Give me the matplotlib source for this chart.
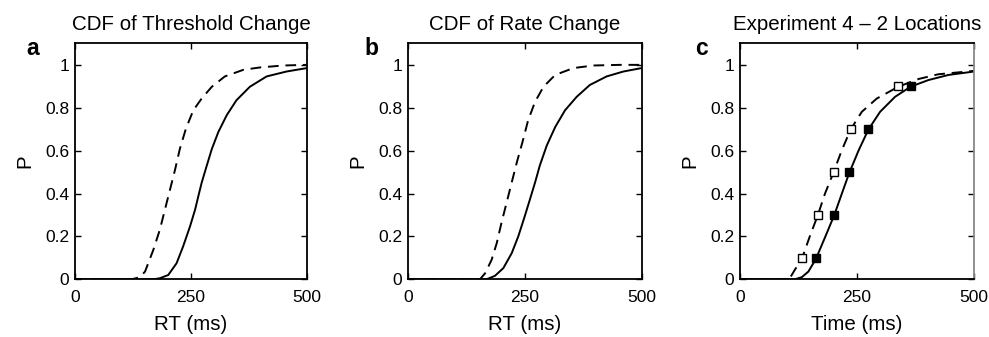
import matplotlib.pyplot as plt

plt.rcParams['font.family'] = ['Liberation Sans', 'DejaVu Sans']

# ---- panel a : CDF of threshold change ----
a_solid_t = [0, 169, 183, 201, 219, 233, 248, 259, 266, 273, 284, 295, 309, 327, 348, 377, 413, 456, 500]
a_solid_p = [0, 0, 0.005, 0.02, 0.075, 0.153, 0.247, 0.326, 0.389, 0.45, 0.53, 0.608, 0.687, 0.765, 0.835, 0.898, 0.946, 0.969, 0.985]
a_dash_t = [0, 122, 140, 151, 169, 183, 194, 205, 216, 226, 239, 255, 273, 295, 323, 363, 399, 449, 500]
a_dash_p = [0, 0, 0.01, 0.036, 0.138, 0.232, 0.326, 0.42, 0.514, 0.608, 0.702, 0.788, 0.843, 0.898, 0.946, 0.977, 0.988, 0.997, 1.0]

# ---- panel b : CDF of rate change ----
b_solid_t = [0, 168, 186, 204, 222, 236, 250, 261, 272, 282, 297, 315, 336, 361, 389, 425, 461, 500]
b_solid_p = [0, 0, 0.016, 0.052, 0.122, 0.2, 0.295, 0.373, 0.452, 0.53, 0.624, 0.71, 0.788, 0.851, 0.906, 0.946, 0.969, 0.985]
b_dash_t = [0, 154, 165, 179, 190, 200, 211, 222, 233, 245, 257, 272, 290, 315, 354, 397, 454, 500]
b_dash_p = [0, 0, 0.028, 0.091, 0.169, 0.263, 0.357, 0.452, 0.546, 0.64, 0.741, 0.828, 0.898, 0.953, 0.985, 0.997, 1.0, 1.0]

# ---- panel c : experiment 4, 2 locations ----
c_solid_t = [0, 117, 132, 146, 162, 181, 201, 217, 233, 253, 274, 299, 331, 364, 402, 445, 500]
c_solid_p = [0, 0, 0.01, 0.036, 0.095, 0.193, 0.298, 0.397, 0.495, 0.6, 0.698, 0.781, 0.851, 0.898, 0.929, 0.953, 0.969]
c_dash_t = [0, 105, 117, 132, 149, 166, 181, 199, 217, 236, 260, 292, 338, 381, 423, 500]
c_dash_p = [0, 0, 0.044, 0.095, 0.2, 0.298, 0.397, 0.495, 0.6, 0.698, 0.781, 0.843, 0.898, 0.934, 0.956, 0.972]
c_filled_t = [162, 201, 233, 273, 365]
c_open_t = [132, 167, 200, 237, 338]
c_quant = [0.1, 0.3, 0.5, 0.7, 0.9]

titles = ["CDF of Threshold Change", "CDF of Rate Change", "Experiment 4 \u2013 2 Locations"]
letters = ["a", "b", "c"]
letter_x = [-0.211, -0.184, -0.192]
xlabels = ["RT (ms)", "RT (ms)", "Time (ms)"]

fig = plt.figure(figsize=(9.89, 3.37), dpi=100)
lefts = [0.0758, 0.4125, 0.7482]
widths = [0.2346, 0.2363, 0.2369]
axes = [fig.add_axes([l, 0.1712, w, 0.700]) for l, w in zip(lefts, widths)]

curves = [
    (a_solid_t, a_solid_p, a_dash_t, a_dash_p),
    (b_solid_t, b_solid_p, b_dash_t, b_dash_p),
    (c_solid_t, c_solid_p, c_dash_t, c_dash_p),
]

for i, ax in enumerate(axes):
    st, sp, dt, dp = curves[i]
    ax.plot(dt, dp, color="black", lw=1.4, dashes=(5.5, 3.5))
    ax.plot(st, sp, color="black", lw=1.4)
    ax.set_xlim(0, 500)
    ax.set_ylim(0, 1.1)
    ax.set_xticks([0, 250, 500])
    ax.set_yticks([0, 0.2, 0.4, 0.6, 0.8, 1])
    ax.set_yticklabels(["0", "0.2", "0.4", "0.6", "0.8", "1"])
    ax.tick_params(direction="in", top=True, right=True, length=4, width=1,
                   labelsize=12.5)
    ax.tick_params(axis="x", pad=8)
    ax.tick_params(axis="y", pad=4)
    for s in ax.spines.values():
        s.set_linewidth(1.3)
    ax.set_title(titles[i], fontsize=14.8, pad=10)
    ax.set_xlabel(xlabels[i], fontsize=14.8, labelpad=7)
    ax.set_ylabel("P", fontsize=14.8, labelpad=8)
    ax.text(letter_x[i], 0.951, letters[i], transform=ax.transAxes, fontsize=16.5,
            fontweight="bold", va="baseline", ha="left")

axes[2].plot(c_filled_t, c_quant, "s", ms=5.5, mfc="black", mec="black", mew=1)
axes[2].plot(c_open_t, c_quant, "s", ms=5.5, mfc="white", mec="black", mew=1)
axes[2].spines["right"].set_color("#888888")

fig.savefig("out.png", dpi=100)
